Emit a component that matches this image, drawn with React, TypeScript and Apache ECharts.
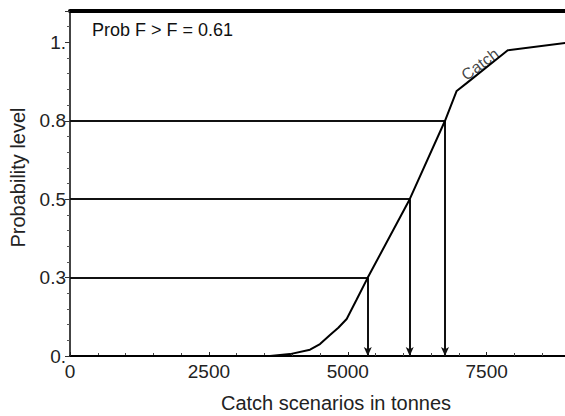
import React, { useEffect, useRef } from "react";
import * as echarts from "echarts";

// Cumulative probability curve of catch
const catchX = [450, 3600, 3960, 4320, 4500, 4680, 4830, 4980, 5160, 5360, 6115, 6750, 6960, 7140, 7880, 9000];
const probY = [0, 0, 0.006, 0.02, 0.038, 0.067, 0.09, 0.118, 0.18, 0.25, 0.5, 0.75, 0.845, 0.87, 0.975, 1.0];

// Probability levels and the catches
const levels = [0.25, 0.5, 0.75];
const levelCatch = [5360, 6115, 6750];

const yTickValues = [0, 0.25, 0.5, 0.75, 1];
const yTickLabels = ["0.", "0.3", "0.5", "0.8", "1."];
const xTickValues = [0, 2500, 5000, 7500];
const xTickLabels = ["0", "2500", "5000", "7500"];

const probText = "Prob F > F = 0.61";
const curveName = "Catch";
const curveLabelAt = [7380, 0.93];

const FONT = "Liberation Sans, Arial, Helvetica, sans-serif";

export default function App() {
  const ref = useRef<HTMLDivElement>(null);
  useEffect(() => {
    if (!ref.current) return;
    const chart = echarts.init(ref.current, null, { renderer: "svg" });
    const hLines = levels.map((l, i) => [
      { coord: [0, l] },
      { coord: [levelCatch[i], l] },
    ]);
    const vLines = levels.map((l, i) => [
      { coord: [levelCatch[i], l], symbol: "none" },
      { coord: [levelCatch[i], 0], symbol: "arrow", symbolSize: [6, 9] },
    ]);
    chart.setOption({
      animation: false,
      backgroundColor: "#fff",
      textStyle: { fontFamily: FONT },
      grid: {
        left: 70,
        top: 11,
        width: 500,
        height: 345,
        containLabel: false,
        outerBoundsMode: "none",
      },
      xAxis: [
        {
          type: "value",
          min: 0,
          max: 9000,
          interval: 2500,
          name: "Catch scenarios in tonnes",
          nameLocation: "middle",
          nameGap: 37,
          nameTextStyle: { fontSize: 20, color: "#222", fontFamily: FONT, padding: [0, 0, 0, 32] },
          axisLine: { lineStyle: { color: "#000", width: 2 } },
          axisTick: { show: true, inside: true, length: 4, lineStyle: { color: "#222" } },
          minorTick: { show: true, splitNumber: 5, length: 3, lineStyle: { color: "#444" } },
          splitLine: { show: false },
          axisLabel: {
            fontSize: 19,
            color: "#222",
            margin: 6,
            fontFamily: FONT,
            showMaxLabel: false,
            formatter: (v: number) => {
              const i = xTickValues.indexOf(v);
              return i >= 0 ? xTickLabels[i] : "";
            },
          },
        },
        {
          type: "value",
          position: "top",
          min: 0,
          max: 9000,
          axisLine: { show: true, lineStyle: { color: "#000", width: 4 } },
          axisTick: { show: false },
          axisLabel: { show: false },
          splitLine: { show: false },
        },
      ],
      yAxis: {
        type: "value",
        min: 0,
        max: 1.1,
        interval: 0.25,
        name: "Probability level",
        nameLocation: "middle",
        nameGap: 42,
        nameTextStyle: { fontSize: 20, color: "#222", fontFamily: FONT, padding: [0, 0, 0, 12] },
        axisLine: { show: true, lineStyle: { color: "#444", width: 2 } },
        axisTick: { show: true, length: 5, lineStyle: { color: "#333" } },
        minorTick: { show: true, splitNumber: 5, length: 3, lineStyle: { color: "#555" } },
        splitLine: { show: false },
        axisLabel: {
          fontSize: 19,
          color: "#222",
          margin: 4,
          fontFamily: FONT,
          showMaxLabel: false,
          formatter: (v: number) => {
            const i = yTickValues.findIndex((t) => Math.abs(t - v) < 1e-6);
            return i >= 0 ? yTickLabels[i] : "";
          },
        },
      },
      series: [
        {
          type: "line",
          data: catchX.map((x, i) => [x, probY[i]]),
          showSymbol: false,
          symbol: "none",
          clip: false,
          lineStyle: { color: "#000", width: 2 },
          z: 5,
          markLine: {
            silent: true,
            symbol: "none",
            label: { show: false },
            lineStyle: { color: "#111", width: 2, type: "solid" },
            itemStyle: { color: "#111" },
            data: [...hLines, ...vLines],
          },
        },
        {
          type: "scatter",
          data: [curveLabelAt],
          symbolSize: 0,
          silent: true,
          label: {
            show: true,
            position: "inside",
            formatter: curveName,
            rotate: 37,
            fontSize: 16,
            color: "#111",
            fontFamily: FONT,
          },
        },
      ],
      graphic: [
        {
          type: "text",
          left: 92,
          top: 21,
          style: {
            text: probText,
            fontSize: 18,
            fill: "#111",
            fontFamily: FONT,
          },
        },
      ],
    });
    return () => chart.dispose();
  }, []);
  return (
    <div
      ref={ref}
      style={{ position: "fixed", left: 0, top: 0, width: 565, height: 416 }}
    />
  );
}
